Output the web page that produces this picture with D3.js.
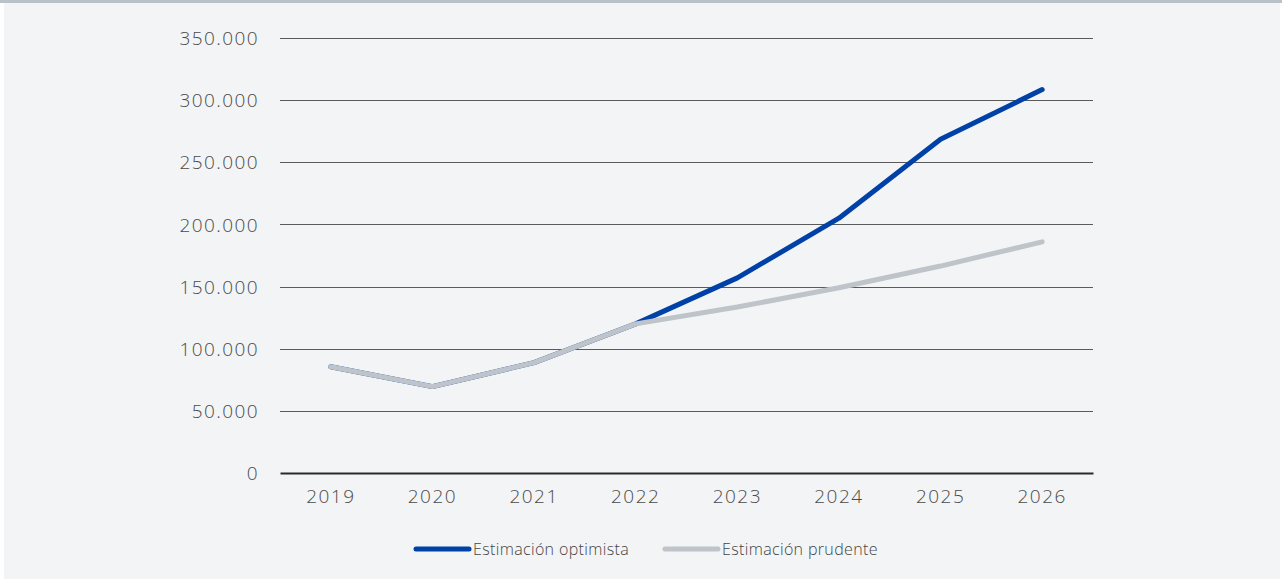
<!DOCTYPE html>
<html><head><meta charset="utf-8">
<script src="https://cdn.jsdelivr.net/npm/d3@7"></script>
<style>
html,body{margin:0;padding:0;background:#fff;}
svg text{font-family:"Open Sans",Lato,sans-serif;font-weight:300;}
</style></head>
<body><svg id="c" width="1282" height="581"></svg>
<script>
const years = ["2019","2020","2021","2022","2023","2024","2025","2026"];
const optimista = [85500, 69500, 88800, 120000, 157000, 205000, 268500, 308500];
const prudente  = [85500, 69500, 88800, 120000, 133500, 149000, 166500, 186000];
const yTicks = [0, 50000, 100000, 150000, 200000, 250000, 300000, 350000];
const seriesNames = ["Estimación optimista", "Estimación prudente"];
const seriesColors = ["#0041a8", "#bec4c9"];

const svg = d3.select("#c");
svg.append("rect").attr("x",4).attr("y",0).attr("width",1276).attr("height",579).attr("fill","#f3f4f6");
svg.append("rect").attr("x",0).attr("y",0).attr("width",1282).attr("height",3).attr("fill","#bac2c9");

const x = d3.scaleBand().domain(years).range([280,1093]);
const y = d3.scaleLinear().domain([0,350000]).range([473,38]);
const fmt = v => d3.format(",")(v).replace(/,/g,".");

const g = svg.append("g");
g.selectAll("line.grid").data(yTicks.filter(d=>d>0)).join("line")
  .attr("x1",280).attr("x2",1093)
  .attr("y1",d=>Math.round(y(d))+0.5).attr("y2",d=>Math.round(y(d))+0.5)
  .attr("stroke","#5a5a5a").attr("stroke-width",1);

const yAxis = d3.axisLeft(y).tickValues(yTicks).tickFormat(fmt).tickSize(0).tickPadding(21);
const ya = svg.append("g").attr("transform","translate(280,0)").call(yAxis);
ya.select(".domain").remove();
ya.selectAll("text").attr("font-size",19).attr("fill","#4a4a4a").attr("dy","0.35em")
  .style("letter-spacing","1.4px");

const xAxis = d3.axisBottom(x).tickSize(0).tickPadding(17);
const xa = svg.append("g").attr("transform","translate(0,473)").call(xAxis);
xa.select(".domain").attr("stroke","#2a2a2a").attr("stroke-width",2);
xa.selectAll("text").attr("font-size",19).attr("fill","#4a4a4a").style("letter-spacing","1.5px");

const line = d3.line().x((d,i)=>x(years[i])+x.bandwidth()/2).y(d=>y(d));
[optimista, prudente].forEach((s,i)=>{
  svg.append("path").datum(s).attr("d",line).attr("fill","none")
    .attr("stroke",seriesColors[i]).attr("stroke-width",5)
    .attr("stroke-linecap","round").attr("stroke-linejoin","round");
});

const legX = [414, 663];
seriesNames.forEach((n,i)=>{
  svg.append("line").attr("x1",legX[i]+2).attr("x2",legX[i]+55).attr("y1",549).attr("y2",549)
    .attr("stroke",seriesColors[i]).attr("stroke-width",5).attr("stroke-linecap","round");
  svg.append("text").attr("x",legX[i]+59).attr("y",549).attr("dy","0.35em")
    .attr("font-size",16).attr("fill","#444").style("letter-spacing","0.35px").text(n);
});
</script></body></html>
